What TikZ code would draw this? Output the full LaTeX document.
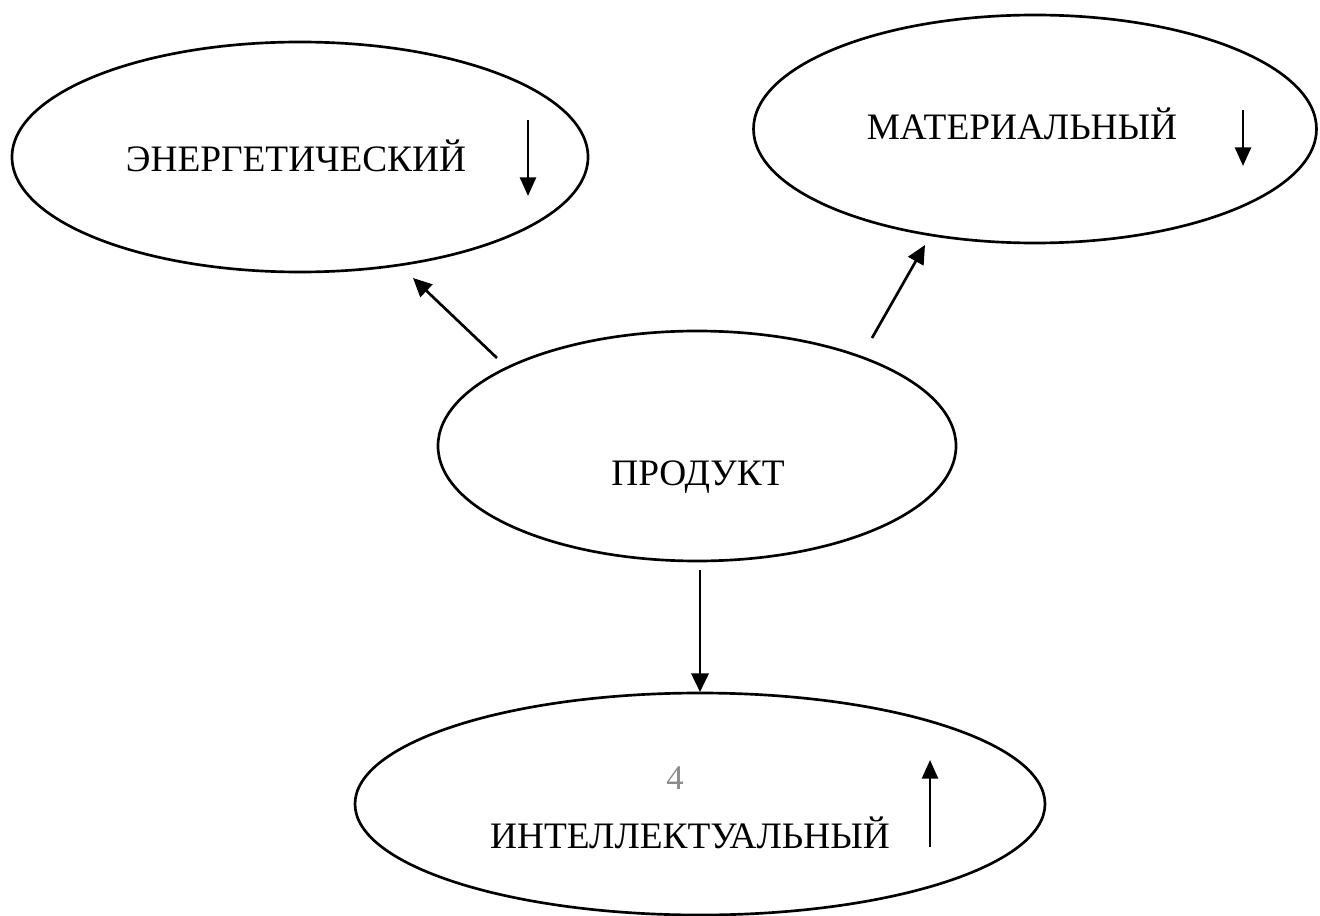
\documentclass[tikz,border=0pt]{standalone}
\usepackage{fontspec}
\setmainfont{Liberation Serif}
\usetikzlibrary{shapes.geometric,arrows.meta}
\newcommand\pxu{0.75pt}
\tikzset{
  oval/.style={ellipse, draw=black, line width=2pt, inner sep=0pt},
  lbl/.style={font=\fontsize{28}{30}\selectfont, inner sep=0pt, anchor=base},
  conn/.style={line width=2pt, -{Triangle[length=14pt,width=13pt]}},
  small/.style={line width=2pt, -{Triangle[length=14pt,width=12pt]}}
}
\begin{document}
\begin{tikzpicture}[x=0.75pt,y=-0.75pt]
\useasboundingbox (0,0) rectangle (1320,916);
% ellipses
\node[oval, minimum width=576*\pxu, minimum height=230*\pxu] (ene) at (300,157) {};
\node[oval, minimum width=563*\pxu, minimum height=228*\pxu] (mat) at (1035,129) {};
\node[oval, minimum width=518*\pxu, minimum height=230*\pxu] (prod) at (697,446) {};
\node[oval, minimum width=690*\pxu, minimum height=222*\pxu] (int) at (700,804) {};
% labels
\node[lbl] (tene) at (296,172) {ЭНЕРГЕТИЧЕСКИЙ};
\node[lbl] (tmat) at (1022,140) {МАТЕРИАЛЬНЫЙ};
\node[lbl] (tprod) at (698,485) {ПРОДУКТ};
\node[lbl, text=black!45, font=\fontsize{26}{28}\selectfont] (tfour) at (675,789) {4};
\node[lbl] (tint) at (690,848) {ИНТЕЛЛЕКТУАЛЬНЫЙ};
% connector ends
\coordinate (pe) at (497,358);
\coordinate (ee) at (413,278);
\coordinate (pm) at (872,338);
\coordinate (mm) at (925,245);
\coordinate (pi) at (700,570);
\coordinate (ii) at (700,692);
\draw[conn] (pe) -- (ee);
\draw[conn] (pm) -- (mm);
\draw[conn] (pi) -- (ii);
% small arrows inside
\coordinate (ea1) at (528,120);
\coordinate (ea2) at (528,196);
\coordinate (ma1) at (1243,110);
\coordinate (ma2) at (1243,166);
\coordinate (ia1) at (930,847);
\coordinate (ia2) at (930,760);
\draw[small] (ea1) -- (ea2);
\draw[small] (ma1) -- (ma2);
\draw[small] (ia1) -- (ia2);
\end{tikzpicture}
\end{document}
